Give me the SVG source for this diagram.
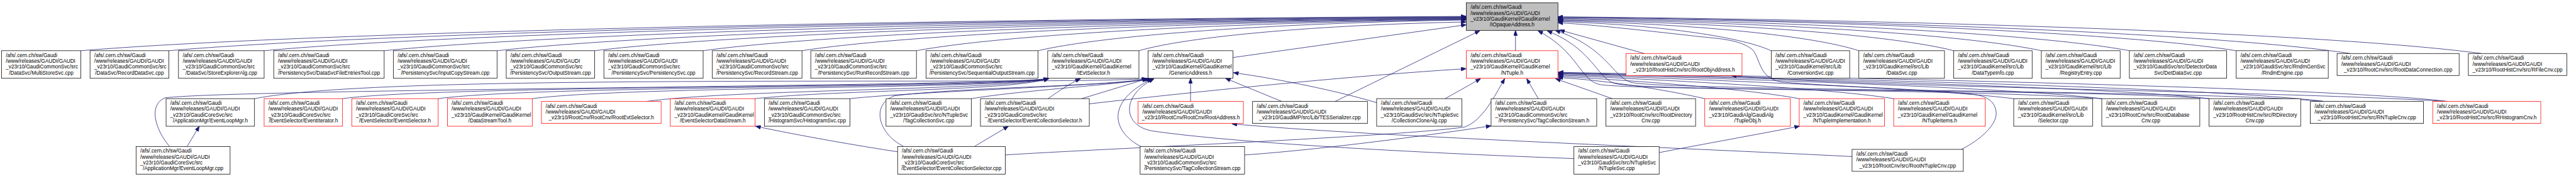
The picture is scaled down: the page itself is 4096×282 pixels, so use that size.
<svg xmlns="http://www.w3.org/2000/svg" width="4096" height="282" viewBox="0 0 4096 282">
<style>
.n rect{fill:#fff;stroke:#000;stroke-width:1.2}
.r rect{fill:#fff;stroke:#ff0000;stroke-width:1.2}
.root rect{fill:#bfbfbf;stroke:#000;stroke-width:1.2}
text{font-family:"Liberation Sans",Arial,Helvetica,sans-serif;font-size:13px;fill:#000}
text.c{text-anchor:middle}
#connectors path{fill:none;stroke:#191970;stroke-width:1.2;marker-end:url(#ah)}
</style>
<defs>
<marker id="ah" viewBox="0 0 13 10" refX="13" refY="5" markerWidth="13" markerHeight="10" markerUnits="userSpaceOnUse" orient="auto"><path d="M0,0 L13,5 L0,10 z" fill="#191970" stroke="#191970" stroke-width="1"/></marker>
</defs>
<rect x="0" y="0" width="4096" height="282" fill="#fff"/>
<g transform="scale(0.63632)">
<g id="connectors">
<path d="M202,127 C721,84 2106,49.6 3664,41"/>
<path d="M422,127 C908,84.5 2205,50.5 3664,42"/>
<path d="M660,127 C1111,85 2312,51.4 3664,43"/>
<path d="M960,127 C1366,85.5 2447,52.3 3664,44"/>
<path d="M1242,127 C1605,86 2574,53.2 3664,45"/>
<path d="M1486,127 C1813,86.5 2684,54.1 3664,46"/>
<path d="M1757,127 C2043,87 2806,55 3664,47"/>
<path d="M2004,127 C2253,87.5 2917,55.9 3664,48"/>
<path d="M2290,127 C2496,88 3046,56.8 3664,49"/>
<path d="M2594,127 C2755,88.5 3183,57.7 3664,50"/>
<path d="M2846,127 C2969,91 3296,62.2 3664,55"/>
<path d="M3081,144 L3664,62"/>
<path d="M4426,127 C4346,90.5 4133,61.3 3893,54"/>
<path d="M4645,127 C4532,89.5 4231,59.5 3893,52"/>
<path d="M4882,127 C4734,88.5 4338,57.7 3893,50"/>
<path d="M5101,127 C4920,87.5 4437,55.9 3893,48"/>
<path d="M5321,127 C5107,86.5 4536,54.1 3893,46"/>
<path d="M5588,127 C5334,85.5 4656,52.3 3893,44"/>
<path d="M5873,134 C5576,88.5 4784,52.1 3893,43"/>
<path d="M6201,134 C5855,88 4932,51.2 3893,42"/>
<path d="M4109,134 L3897,75"/>
<path d="M3787,127 L3787,76"/>
<path d="M3336,254 L3698,77"/>
<path d="M4901,374 C4950,350 4992,310 4988,280 C4984,250 4960,240 4930,236 C4800,222 4600,218 4450,205 C4395,195 4400,150 4380,125 C4350,100 4300,97 4250,92 C4100,75 3960,60 3893,57"/>
<path d="M5252,247 C4900,222 4100,226 4000,212 C3950,205 3945,130 3843,77"/>
<path d="M5520,247 C5200,222 4140,230 4040,210 C3990,200 3985,125 3866,77"/>
<path d="M5808,254 C5500,225 4180,227 4080,207 C4030,197 4020,120 3886,76"/>
<path d="M423,366 C385,320 372,262 412,245 C600,222 2540,216 2621,196"/>
<path d="M636,247 C850,205 1500,203 2300,203 C2600,203 2780,202 2866,197"/>
<path d="M856,247 C1100,212 2540,220 2621,196"/>
<path d="M1095,247 C1350,212 2540,222 2621,196"/>
<path d="M1330,247 C1580,214 2540,224 2621,196"/>
<path d="M1615,254 C1850,222 2540,226 2621,196"/>
<path d="M1887,247 C2100,224 2540,228 2621,196"/>
<path d="M2619,247 C2650,225 2672,210 2700,197"/>
<path d="M2124,247 C2300,228 2780,215 2868,197"/>
<path d="M2427,247 C2560,225 2800,212 2872,197"/>
<path d="M2703,247 L2867,197"/>
<path d="M2257,366 C2195,335 2175,262 2235,240 C2400,218 2800,215 2876,197"/>
<path d="M2851,367 C2780,330 2760,255 2880,197"/>
<path d="M3933,397 C3600,385 3100,360 2880,328 C2805,315 2800,240 2884,197"/>
<path d="M2975,254 L2975,196"/>
<path d="M3203,254 L3062,196"/>
<path d="M3440,257 C3350,230 3200,198 3082,182"/>
<path d="M2722,260 C3000,228 3400,188 3664,172"/>
<path d="M2512,388 C2700,375 3500,342 3660,318 C3705,302 3735,240 3760,197"/>
<path d="M3611,247 L3700,197"/>
<path d="M3844,247 L3815,197"/>
<path d="M4029,247 L3887,197"/>
<path d="M4260,247 C4150,222 4000,200 3893,194"/>
<path d="M4496,247 C4350,220 4050,200 3893,191"/>
<path d="M4732,247 C4550,218 4100,198 3893,188"/>
<path d="M5032,247 C4800,218 4150,196 3893,186"/>
<path d="M5252,247 C5000,216 4200,194 3893,184"/>
<path d="M5520,247 C5250,215 4250,193 3893,183"/>
<path d="M5808,254 C5500,215 4300,192 3893,182"/>
<path d="M6116,254 C5800,215 4350,190 3893,181"/>
<path d="M468,366 L498,316"/>
<path d="M2436,366 L2520,316"/>
<path d="M2243,380 C2150,366 2000,340 1888,316"/>
<path d="M3110,388 C3300,375 3600,335 3726,315"/>
<path d="M4146,382 C4250,362 4400,335 4497,316"/>
<path d="M4628,392 C4200,370 3400,340 3078,310"/>
<path d="M6116,254 C5700,228 4600,218 4326,189"/>
</g>

<g id="n_root" class="root"><rect x="3664" y="7" width="229" height="69"/><text x="3674.5" y="22.5">/afs/.cern.ch/sw/Gaudi</text><text x="3674.5" y="37.2">/www/releases/GAUDI/GAUDI</text><text x="3674.5" y="51.8">_v23r10/GaudiKernel/GaudiKernel</text><text class="c" x="3778.5" y="66.5">/IOpaqueAddress.h</text></g>

<g id="n_multistore" class="n"><rect x="4" y="127" width="198" height="69"/><text x="14.5" y="142.5">/afs/.cern.ch/sw/Gaudi</text><text x="14.5" y="157.2">/www/releases/GAUDI/GAUDI</text><text x="14.5" y="171.8">_v23r10/GaudiCommonSvc/src</text><text class="c" x="103" y="186.5">/DataSvc/MultiStoreSvc.cpp</text></g>
<g id="n_recorddata" class="n"><rect x="225" y="127" width="197" height="69"/><text x="235.5" y="142.5">/afs/.cern.ch/sw/Gaudi</text><text x="235.5" y="157.2">/www/releases/GAUDI/GAUDI</text><text x="235.5" y="171.8">_v23r10/GaudiCommonSvc/src</text><text class="c" x="323.5" y="186.5">/DataSvc/RecordDataSvc.cpp</text></g>
<g id="n_storeexpl" class="n"><rect x="446" y="127" width="214" height="69"/><text x="456.5" y="142.5">/afs/.cern.ch/sw/Gaudi</text><text x="456.5" y="157.2">/www/releases/GAUDI/GAUDI</text><text x="456.5" y="171.8">_v23r10/GaudiCommonSvc/src</text><text class="c" x="553" y="186.5">/DataSvc/StoreExplorerAlg.cpp</text></g>
<g id="n_dsfet" class="n"><rect x="684" y="127" width="276" height="69"/><text x="694.5" y="142.5">/afs/.cern.ch/sw/Gaudi</text><text x="694.5" y="157.2">/www/releases/GAUDI/GAUDI</text><text x="694.5" y="171.8">_v23r10/GaudiCommonSvc/src</text><text class="c" x="822" y="186.5">/PersistencySvc/DataSvcFileEntriesTool.cpp</text></g>
<g id="n_inputcopy" class="n"><rect x="983" y="127" width="259" height="69"/><text x="993.5" y="142.5">/afs/.cern.ch/sw/Gaudi</text><text x="993.5" y="157.2">/www/releases/GAUDI/GAUDI</text><text x="993.5" y="171.8">_v23r10/GaudiCommonSvc/src</text><text class="c" x="1112.5" y="186.5">/PersistencySvc/InputCopyStream.cpp</text></g>
<g id="n_output" class="n"><rect x="1265" y="127" width="221" height="69"/><text x="1275.5" y="142.5">/afs/.cern.ch/sw/Gaudi</text><text x="1275.5" y="157.2">/www/releases/GAUDI/GAUDI</text><text x="1275.5" y="171.8">_v23r10/GaudiCommonSvc/src</text><text class="c" x="1375.5" y="186.5">/PersistencySvc/OutputStream.cpp</text></g>
<g id="n_perssvc" class="n"><rect x="1509" y="127" width="248" height="69"/><text x="1519.5" y="142.5">/afs/.cern.ch/sw/Gaudi</text><text x="1519.5" y="157.2">/www/releases/GAUDI/GAUDI</text><text x="1519.5" y="171.8">_v23r10/GaudiCommonSvc/src</text><text class="c" x="1633" y="186.5">/PersistencySvc/PersistencySvc.cpp</text></g>
<g id="n_recordstream" class="n"><rect x="1780" y="127" width="224" height="69"/><text x="1790.5" y="142.5">/afs/.cern.ch/sw/Gaudi</text><text x="1790.5" y="157.2">/www/releases/GAUDI/GAUDI</text><text x="1790.5" y="171.8">_v23r10/GaudiCommonSvc/src</text><text class="c" x="1892" y="186.5">/PersistencySvc/RecordStream.cpp</text></g>
<g id="n_runrecord" class="n"><rect x="2026" y="127" width="264" height="69"/><text x="2036.5" y="142.5">/afs/.cern.ch/sw/Gaudi</text><text x="2036.5" y="157.2">/www/releases/GAUDI/GAUDI</text><text x="2036.5" y="171.8">_v23r10/GaudiCommonSvc/src</text><text class="c" x="2158" y="186.5">/PersistencySvc/RunRecordStream.cpp</text></g>
<g id="n_seqout" class="n"><rect x="2314" y="127" width="280" height="69"/><text x="2324.5" y="142.5">/afs/.cern.ch/sw/Gaudi</text><text x="2324.5" y="157.2">/www/releases/GAUDI/GAUDI</text><text x="2324.5" y="171.8">_v23r10/GaudiCommonSvc/src</text><text class="c" x="2454" y="186.5">/PersistencySvc/SequentialOutputStream.cpp</text></g>
<g id="n_ievtsel" class="n"><rect x="2618" y="127" width="228" height="69"/><text x="2628.5" y="142.5">/afs/.cern.ch/sw/Gaudi</text><text x="2628.5" y="157.2">/www/releases/GAUDI/GAUDI</text><text x="2628.5" y="171.8">_v23r10/GaudiKernel/GaudiKernel</text><text class="c" x="2732" y="186.5">/IEvtSelector.h</text></g>
<g id="n_generic" class="n"><rect x="2869" y="127" width="212" height="69"/><text x="2879.5" y="142.5">/afs/.cern.ch/sw/Gaudi</text><text x="2879.5" y="157.2">/www/releases/GAUDI/GAUDI</text><text x="2879.5" y="171.8">_v23r10/GaudiKernel/GaudiKernel</text><text class="c" x="2975" y="186.5">/GenericAddress.h</text></g>
<g id="n_ntuple" class="r"><rect x="3664" y="127" width="229" height="69"/><text x="3674.5" y="142.5">/afs/.cern.ch/sw/Gaudi</text><text x="3674.5" y="157.2">/www/releases/GAUDI/GAUDI</text><text x="3674.5" y="171.8">_v23r10/GaudiKernel/GaudiKernel</text><text class="c" x="3778.5" y="186.5">/NTuple.h</text></g>
<g id="n_rootobjaddr" class="r"><rect x="4063" y="134" width="290" height="55"/><text x="4073.5" y="149.8">/afs/.cern.ch/sw/Gaudi</text><text x="4073.5" y="164.5">/www/releases/GAUDI/GAUDI</text><text class="c" x="4208" y="179.2">_v23r10/RootHistCnv/src/RootObjAddress.h</text></g>
<g id="n_convsvc" class="n"><rect x="4426" y="127" width="196" height="69"/><text x="4436.5" y="142.5">/afs/.cern.ch/sw/Gaudi</text><text x="4436.5" y="157.2">/www/releases/GAUDI/GAUDI</text><text x="4436.5" y="171.8">_v23r10/GaudiKernel/src/Lib</text><text class="c" x="4524" y="186.5">/ConversionSvc.cpp</text></g>
<g id="n_datasvc" class="n"><rect x="4645" y="127" width="214" height="69"/><text x="4655.5" y="142.5">/afs/.cern.ch/sw/Gaudi</text><text x="4655.5" y="157.2">/www/releases/GAUDI/GAUDI</text><text x="4655.5" y="171.8">_v23r10/GaudiKernel/src/Lib</text><text class="c" x="4752" y="186.5">/DataSvc.cpp</text></g>
<g id="n_datatypeinfo" class="n"><rect x="4882" y="127" width="196" height="69"/><text x="4892.5" y="142.5">/afs/.cern.ch/sw/Gaudi</text><text x="4892.5" y="157.2">/www/releases/GAUDI/GAUDI</text><text x="4892.5" y="171.8">_v23r10/GaudiKernel/src/Lib</text><text class="c" x="4980" y="186.5">/DataTypeInfo.cpp</text></g>
<g id="n_registry" class="n"><rect x="5101" y="127" width="197" height="69"/><text x="5111.5" y="142.5">/afs/.cern.ch/sw/Gaudi</text><text x="5111.5" y="157.2">/www/releases/GAUDI/GAUDI</text><text x="5111.5" y="171.8">_v23r10/GaudiKernel/src/Lib</text><text class="c" x="5199.5" y="186.5">/RegistryEntry.cpp</text></g>
<g id="n_detdata" class="n"><rect x="5321" y="127" width="243" height="69"/><text x="5331.5" y="142.5">/afs/.cern.ch/sw/Gaudi</text><text x="5331.5" y="157.2">/www/releases/GAUDI/GAUDI</text><text x="5331.5" y="171.8">_v23r10/GaudiSvc/src/DetectorData</text><text class="c" x="5442.5" y="186.5">Svc/DetDataSvc.cpp</text></g>
<g id="n_rndm" class="n"><rect x="5588" y="127" width="230" height="69"/><text x="5598.5" y="142.5">/afs/.cern.ch/sw/Gaudi</text><text x="5598.5" y="157.2">/www/releases/GAUDI/GAUDI</text><text x="5598.5" y="171.8">_v23r10/GaudiSvc/src/RndmGenSvc</text><text class="c" x="5703" y="186.5">/RndmEngine.cpp</text></g>
<g id="n_rootdataconn" class="n"><rect x="5840" y="134" width="305" height="55"/><text x="5850.5" y="149.8">/afs/.cern.ch/sw/Gaudi</text><text x="5850.5" y="164.5">/www/releases/GAUDI/GAUDI</text><text class="c" x="5992.5" y="179.2">_v23r10/RootCnv/src/RootDataConnection.cpp</text></g>
<g id="n_rfilecnv" class="n"><rect x="6168" y="134" width="246" height="55"/><text x="6178.5" y="149.8">/afs/.cern.ch/sw/Gaudi</text><text x="6178.5" y="164.5">/www/releases/GAUDI/GAUDI</text><text class="c" x="6291" y="179.2">_v23r10/RootHistCnv/src/RFileCnv.cpp</text></g>

<g id="n_elh" class="n"><rect x="415" y="247" width="221" height="69"/><text x="425.5" y="262.5">/afs/.cern.ch/sw/Gaudi</text><text x="425.5" y="277.2">/www/releases/GAUDI/GAUDI</text><text x="425.5" y="291.8">_v23r10/GaudiCoreSvc/src</text><text class="c" x="525.5" y="306.5">/ApplicationMgr/EventLoopMgr.h</text></g>
<g id="n_evtiter" class="r"><rect x="660" y="247" width="196" height="69"/><text x="670.5" y="262.5">/afs/.cern.ch/sw/Gaudi</text><text x="670.5" y="277.2">/www/releases/GAUDI/GAUDI</text><text x="670.5" y="291.8">_v23r10/GaudiCoreSvc/src</text><text class="c" x="758" y="306.5">/EventSelector/EventIterator.h</text></g>
<g id="n_evtsel" class="r"><rect x="879" y="247" width="216" height="69"/><text x="889.5" y="262.5">/afs/.cern.ch/sw/Gaudi</text><text x="889.5" y="277.2">/www/releases/GAUDI/GAUDI</text><text x="889.5" y="291.8">_v23r10/GaudiCoreSvc/src</text><text class="c" x="987" y="306.5">/EventSelector/EventSelector.h</text></g>
<g id="n_dst" class="r"><rect x="1118" y="247" width="212" height="69"/><text x="1128.5" y="262.5">/afs/.cern.ch/sw/Gaudi</text><text x="1128.5" y="277.2">/www/releases/GAUDI/GAUDI</text><text x="1128.5" y="291.8">_v23r10/GaudiKernel/GaudiKernel</text><text class="c" x="1224" y="306.5">/DataStreamTool.h</text></g>
<g id="n_rootevtsel" class="r"><rect x="1353" y="254" width="299" height="55"/><text x="1363.5" y="269.8">/afs/.cern.ch/sw/Gaudi</text><text x="1363.5" y="284.5">/www/releases/GAUDI/GAUDI</text><text class="c" x="1502.5" y="299.2">_v23r10/RootCnv/RootCnv/RootEvtSelector.h</text></g>
<g id="n_esds" class="r"><rect x="1675" y="247" width="212" height="69"/><text x="1685.5" y="262.5">/afs/.cern.ch/sw/Gaudi</text><text x="1685.5" y="277.2">/www/releases/GAUDI/GAUDI</text><text x="1685.5" y="291.8">_v23r10/GaudiKernel/GaudiKernel</text><text class="c" x="1781" y="306.5">/EventSelectorDataStream.h</text></g>
<g id="n_histsvc" class="n"><rect x="1910" y="247" width="214" height="69"/><text x="1920.5" y="262.5">/afs/.cern.ch/sw/Gaudi</text><text x="1920.5" y="277.2">/www/releases/GAUDI/GAUDI</text><text x="1920.5" y="291.8">_v23r10/GaudiCommonSvc/src</text><text class="c" x="2017" y="306.5">/HistogramSvc/HistogramSvc.cpp</text></g>
<g id="n_tagcollsvc" class="n"><rect x="2214" y="247" width="213" height="69"/><text x="2224.5" y="262.5">/afs/.cern.ch/sw/Gaudi</text><text x="2224.5" y="277.2">/www/releases/GAUDI/GAUDI</text><text x="2224.5" y="291.8">_v23r10/GaudiSvc/src/NTupleSvc</text><text class="c" x="2320.5" y="306.5">/TagCollectionSvc.cpp</text></g>
<g id="n_ecsh" class="n"><rect x="2450" y="247" width="272" height="69"/><text x="2460.5" y="262.5">/afs/.cern.ch/sw/Gaudi</text><text x="2460.5" y="277.2">/www/releases/GAUDI/GAUDI</text><text x="2460.5" y="291.8">_v23r10/GaudiCoreSvc/src</text><text class="c" x="2586" y="306.5">/EventSelector/EventCollectionSelector.h</text></g>
<g id="n_rootaddr" class="r"><rect x="2844" y="254" width="263" height="55"/><text x="2854.5" y="269.8">/afs/.cern.ch/sw/Gaudi</text><text x="2854.5" y="284.5">/www/releases/GAUDI/GAUDI</text><text class="c" x="2975.5" y="299.2">_v23r10/RootCnv/RootCnv/RootAddress.h</text></g>
<g id="n_tesser" class="n"><rect x="3130" y="254" width="287" height="55"/><text x="3140.5" y="269.8">/afs/.cern.ch/sw/Gaudi</text><text x="3140.5" y="284.5">/www/releases/GAUDI/GAUDI</text><text class="c" x="3273.5" y="299.2">_v23r10/GaudiMP/src/Lib/TESSerializer.cpp</text></g>
<g id="n_collclone" class="n"><rect x="3440" y="247" width="213" height="69"/><text x="3450.5" y="262.5">/afs/.cern.ch/sw/Gaudi</text><text x="3450.5" y="277.2">/www/releases/GAUDI/GAUDI</text><text x="3450.5" y="291.8">_v23r10/GaudiSvc/src/NTupleSvc</text><text class="c" x="3546.5" y="306.5">/CollectionCloneAlg.cpp</text></g>
<g id="n_tcsh" class="n"><rect x="3726" y="247" width="264" height="69"/><text x="3736.5" y="262.5">/afs/.cern.ch/sw/Gaudi</text><text x="3736.5" y="277.2">/www/releases/GAUDI/GAUDI</text><text x="3736.5" y="291.8">_v23r10/GaudiCommonSvc/src</text><text class="c" x="3858" y="306.5">/PersistencySvc/TagCollectionStream.h</text></g>
<g id="n_rootdircnv" class="n"><rect x="4013" y="247" width="224" height="69"/><text x="4023.5" y="262.5">/afs/.cern.ch/sw/Gaudi</text><text x="4023.5" y="277.2">/www/releases/GAUDI/GAUDI</text><text x="4023.5" y="291.8">_v23r10/RootCnv/src/RootDirectory</text><text class="c" x="4125" y="306.5">Cnv.cpp</text></g>
<g id="n_tupleobj" class="r"><rect x="4260" y="247" width="214" height="69"/><text x="4270.5" y="262.5">/afs/.cern.ch/sw/Gaudi</text><text x="4270.5" y="277.2">/www/releases/GAUDI/GAUDI</text><text x="4270.5" y="291.8">_v23r10/GaudiAlg/GaudiAlg</text><text class="c" x="4367" y="306.5">/TupleObj.h</text></g>
<g id="n_ntupleimpl" class="r"><rect x="4496" y="247" width="213" height="69"/><text x="4506.5" y="262.5">/afs/.cern.ch/sw/Gaudi</text><text x="4506.5" y="277.2">/www/releases/GAUDI/GAUDI</text><text x="4506.5" y="291.8">_v23r10/GaudiKernel/GaudiKernel</text><text class="c" x="4602.5" y="306.5">/NTupleImplementation.h</text></g>
<g id="n_ntupleitems" class="r"><rect x="4732" y="247" width="229" height="69"/><text x="4742.5" y="262.5">/afs/.cern.ch/sw/Gaudi</text><text x="4742.5" y="277.2">/www/releases/GAUDI/GAUDI</text><text x="4742.5" y="291.8">_v23r10/GaudiKernel/GaudiKernel</text><text class="c" x="4846.5" y="306.5">/NTupleItems.h</text></g>
<g id="n_selector" class="n"><rect x="5032" y="247" width="197" height="69"/><text x="5042.5" y="262.5">/afs/.cern.ch/sw/Gaudi</text><text x="5042.5" y="277.2">/www/releases/GAUDI/GAUDI</text><text x="5042.5" y="291.8">_v23r10/GaudiKernel/src/Lib</text><text class="c" x="5130.5" y="306.5">/Selector.cpp</text></g>
<g id="n_rootdbcnv" class="n"><rect x="5252" y="247" width="245" height="69"/><text x="5262.5" y="262.5">/afs/.cern.ch/sw/Gaudi</text><text x="5262.5" y="277.2">/www/releases/GAUDI/GAUDI</text><text x="5262.5" y="291.8">_v23r10/RootCnv/src/RootDatabase</text><text class="c" x="5374.5" y="306.5">Cnv.cpp</text></g>
<g id="n_rdircnv" class="n"><rect x="5520" y="247" width="229" height="69"/><text x="5530.5" y="262.5">/afs/.cern.ch/sw/Gaudi</text><text x="5530.5" y="277.2">/www/releases/GAUDI/GAUDI</text><text x="5530.5" y="291.8">_v23r10/RootHistCnv/src/RDirectory</text><text class="c" x="5634.5" y="306.5">Cnv.cpp</text></g>
<g id="n_rntuplecnv" class="n"><rect x="5773" y="254" width="283" height="55"/><text x="5783.5" y="269.8">/afs/.cern.ch/sw/Gaudi</text><text x="5783.5" y="284.5">/www/releases/GAUDI/GAUDI</text><text class="c" x="5914.5" y="299.2">_v23r10/RootHistCnv/src/RNTupleCnv.cpp</text></g>
<g id="n_rhistcnv" class="r"><rect x="6079" y="254" width="270" height="55"/><text x="6089.5" y="269.8">/afs/.cern.ch/sw/Gaudi</text><text x="6089.5" y="284.5">/www/releases/GAUDI/GAUDI</text><text class="c" x="6214" y="299.2">_v23r10/RootHistCnv/src/RHistogramCnv.h</text></g>

<g id="n_elcpp" class="n"><rect x="340" y="367" width="235" height="69"/><text x="350.5" y="382.5">/afs/.cern.ch/sw/Gaudi</text><text x="350.5" y="397.2">/www/releases/GAUDI/GAUDI</text><text x="350.5" y="411.8">_v23r10/GaudiCoreSvc/src</text><text class="c" x="457.5" y="426.5">/ApplicationMgr/EventLoopMgr.cpp</text></g>
<g id="n_ecscpp" class="n"><rect x="2243" y="367" width="269" height="69"/><text x="2253.5" y="382.5">/afs/.cern.ch/sw/Gaudi</text><text x="2253.5" y="397.2">/www/releases/GAUDI/GAUDI</text><text x="2253.5" y="411.8">_v23r10/GaudiCoreSvc/src</text><text class="c" x="2377.5" y="426.5">/EventSelector/EventCollectionSelector.cpp</text></g>
<g id="n_tcscpp" class="n"><rect x="2849" y="367" width="261" height="69"/><text x="2859.5" y="382.5">/afs/.cern.ch/sw/Gaudi</text><text x="2859.5" y="397.2">/www/releases/GAUDI/GAUDI</text><text x="2859.5" y="411.8">_v23r10/GaudiCommonSvc/src</text><text class="c" x="2979.5" y="426.5">/PersistencySvc/TagCollectionStream.cpp</text></g>
<g id="n_ntuplesvc" class="n"><rect x="3933" y="367" width="213" height="69"/><text x="3943.5" y="382.5">/afs/.cern.ch/sw/Gaudi</text><text x="3943.5" y="397.2">/www/releases/GAUDI/GAUDI</text><text x="3943.5" y="411.8">_v23r10/GaudiSvc/src/NTupleSvc</text><text class="c" x="4039.5" y="426.5">/NTupleSvc.cpp</text></g>
<g id="n_rootntuplecnv" class="n"><rect x="4628" y="374" width="278" height="55"/><text x="4638.5" y="389.8">/afs/.cern.ch/sw/Gaudi</text><text x="4638.5" y="404.5">/www/releases/GAUDI/GAUDI</text><text class="c" x="4767" y="419.2">_v23r10/RootCnv/src/RootNTupleCnv.cpp</text></g>
</g>
</svg>
